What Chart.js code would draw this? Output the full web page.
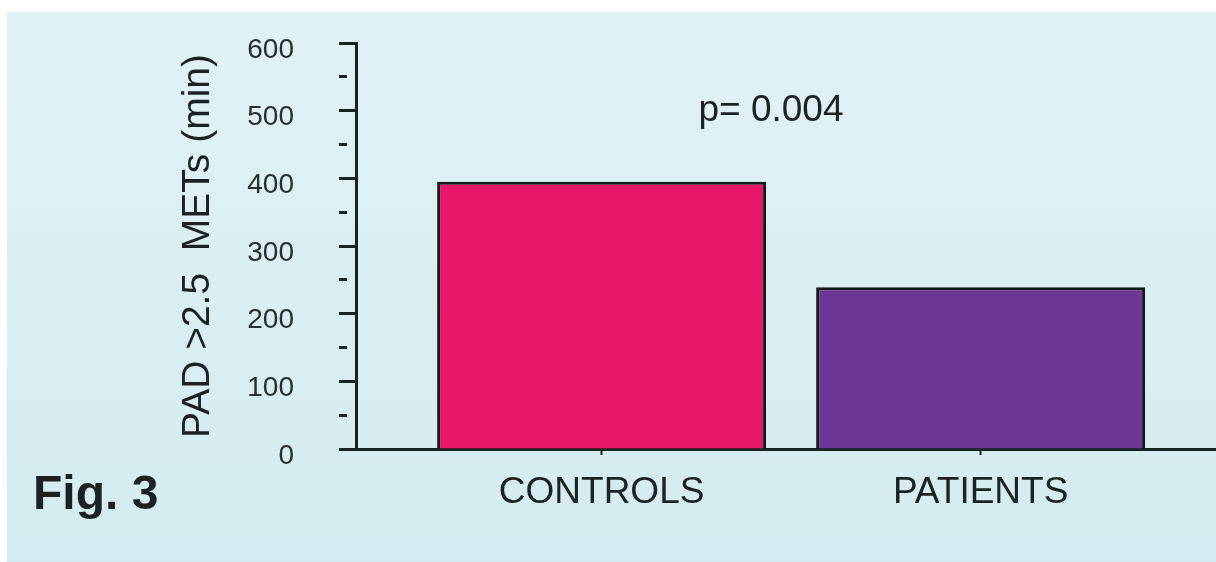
<!DOCTYPE html>
<html><head><meta charset="utf-8">
<script src="https://cdn.jsdelivr.net/npm/chart.js@4"></script>
<style>html,body{margin:0;padding:0;background:#fff;} canvas{display:block;}</style>
</head><body>
<canvas id="c" width="1216" height="562"></canvas>
<script>
const categories = ['CONTROLS', 'PATIENTS'];
const padValues = [395, 239];
const barColors = ['#E8176A', '#6C3794'];
const yTickStep = 50;
const yLabelStep = 100;
const yMin = 0;
const yMax = 600;
const yAxisTitle = 'PAD >2.5  METs (min)';
const pValueText = 'p= 0.004';
const figLabel = 'Fig. 3';

const FONT = "'Liberation Sans', Arial, Helvetica, sans-serif";
const TEXT = '#1c2222';
const AXIS = '#172222';
const positions = categories.map((c, i) => i + 1);

const bgPlugin = {
  id: 'bg',
  beforeDraw(chart) {
    const ctx = chart.ctx;
    ctx.save();
    ctx.fillStyle = '#ffffff';
    ctx.fillRect(0, 0, chart.width, chart.height);
    const g = ctx.createLinearGradient(0, 12, 0, chart.height);
    g.addColorStop(0, '#E1F2F5');
    g.addColorStop(1, '#D3EBF0');
    ctx.fillStyle = g;
    ctx.fillRect(7, 12, chart.width - 7, chart.height - 12);
    ctx.restore();
  }
};

const textPlugin = {
  id: 'texts',
  afterDraw(chart) {
    const ctx = chart.ctx;
    ctx.save();
    ctx.fillStyle = TEXT;
    ctx.font = `37px ${FONT}`;
    ctx.textAlign = 'center';
    ctx.textBaseline = 'middle';
    ctx.fillText(pValueText, 771, 111);
    ctx.font = `bold 48px ${FONT}`;
    ctx.textAlign = 'left';
    ctx.textBaseline = 'alphabetic';
    ctx.fillText(figLabel, 33, 509);
    ctx.restore();
  }
};

new Chart(document.getElementById('c'), {
  type: 'bar',
  data: {
    datasets: [{
      data: positions.map((x, i) => ({ x: x, y: padValues[i] })),
      backgroundColor: barColors,
      borderColor: '#121a1a',
      borderWidth: 3,
      borderSkipped: 'start',
      categoryPercentage: 1,
      barPercentage: 0.868
    }]
  },
  options: {
    responsive: false,
    animation: false,
    devicePixelRatio: 1,
    layout: { padding: { left: 175, top: 43, right: 0, bottom: 0 } },
    plugins: { legend: { display: false }, tooltip: { enabled: false } },
    scales: {
      x: {
        type: 'linear',
        offset: false,
        min: 0.352,
        max: 2.621,
        afterBuildTicks: s => { s.ticks = positions.map(v => ({ value: v })); },
        afterFit: s => { s.height = 113; s.paddingLeft = 0; s.paddingRight = 0; },
        ticks: {
          callback: v => categories[v - 1] ?? '',
          font: { size: 37, family: FONT },
          color: TEXT,
          padding: 16,
          maxRotation: 0,
          autoSkip: false
        },
        grid: { offset: false, drawOnChartArea: false, tickLength: 6, tickWidth: 2, tickColor: AXIS },
        border: { color: AXIS, width: 3 }
      },
      y: {
        min: yMin,
        max: yMax,
        afterFit: s => { s.width = 356 - 175; s.paddingTop = 0; s.paddingBottom = 0; },
        ticks: {
          stepSize: yTickStep,
          autoSkip: false,
          callback: v => (v % yLabelStep === 0 ? String(v) : ''),
          font: { size: 28, family: FONT },
          color: '#263030',
          padding: 45,
          labelOffset: 7
        },
        grid: {
          drawOnChartArea: false,
          tickLength: 17,
          tickWidth: 3,
          tickColor: AXIS,
          tickBorderDash: ctx => (ctx.tick && ctx.tick.value % yLabelStep !== 0) ? [8, 40] : []
        },
        border: { color: AXIS, width: 3 },
        title: {
          display: true,
          text: yAxisTitle,
          font: { size: 39, family: FONT },
          color: TEXT,
          padding: 0
        }
      }
    }
  },
  plugins: [bgPlugin, textPlugin]
});
</script>
</body></html>
